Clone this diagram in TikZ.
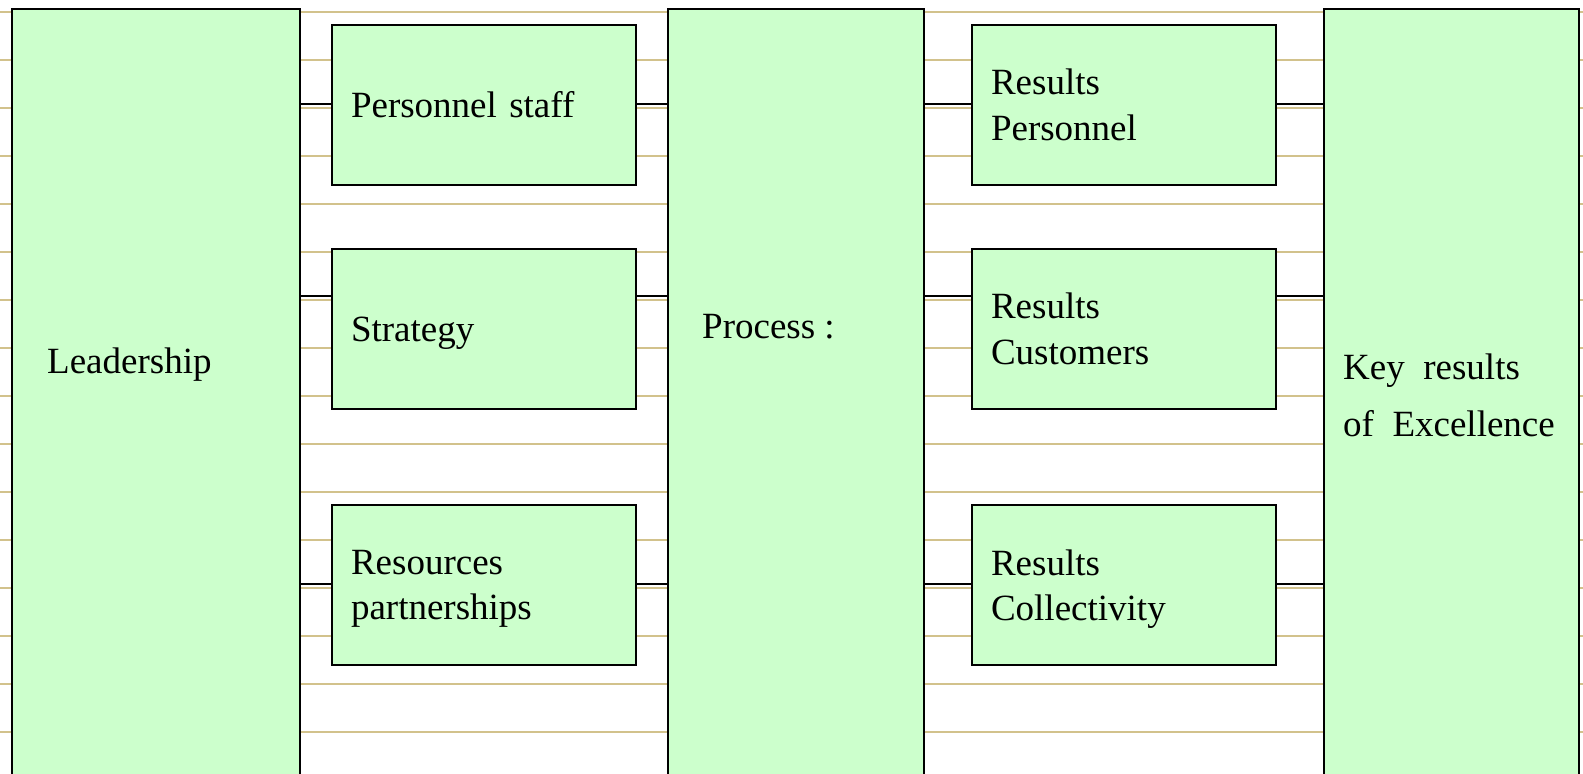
\documentclass[tikz,border=0pt]{standalone}
\usepackage{fontspec}
\setmainfont{Liberation Serif}
\definecolor{boxGreen}{RGB}{204,255,204}
\definecolor{ruleTan}{RGB}{210,194,140}
% keeps the height of a word but drops its descender
\newcommand{\flatText}[1]{\raisebox{0pt}[\height][0pt]{#1}}
\tikzstyle{columnBox}=[shape = rectangle, draw, fill = boxGreen, line width = 2pt, anchor = north west, minimum height = 800pt, inner sep = 0pt]
\tikzstyle{itemBox}=[shape = rectangle, draw, fill = boxGreen, line width = 2pt, anchor = north west, minimum width = 304pt, minimum height = 160pt, inner xsep = 19pt, text width = 266pt, align = left]
\tikzstyle{plainText}=[anchor = base west, inner sep = 0pt, align = left]
\tikzstyle{ruleLine}=[draw = ruleTan, line width = 1.3pt]
\tikzstyle{linkLine}=[draw, line width = 2pt]

\begin{document}
\begin{tikzpicture}[x = 1pt, y = -1pt, font = \fontsize{37}{45.5}\selectfont]
\useasboundingbox (0,0) rectangle (1583,774);
\clip (0,0) rectangle (1583,774);
% ruled background
\foreach \y in {12,60,...,732}
  \draw[ruleLine] (0,\y) -- (1583,\y);
% the three columns
\node[columnBox, minimum width = 288pt] (lead) at (11,8) {};
\node[columnBox, minimum width = 256pt] (proc) at (667,8) {};
\node[columnBox, minimum width = 255pt] (key) at (1323,8) {};
\node[plainText] (leadText) at (47,373) {Leadership};
\node[plainText] (procText) at (702,338) {Process :};
% base sits on the last line here
\node[plainText, font = \fontsize{37}{57}\selectfont] (keyText) at (1343,436) {Key\ \ results\\of\ \ Excellence};
% links between the columns
\coordinate (rowA) at (0,104);
\coordinate (rowB) at (0,296);
\coordinate (rowC) at (0,584);
\foreach \r in {rowA,rowB,rowC} {
  \draw[linkLine] (lead.east |- \r) -- (proc.west |- \r);
  \draw[linkLine] (proc.east |- \r) -- (key.west |- \r);
}
% enablers
\node[itemBox] (staff) at (331,24) {Personnel staff};
\node[itemBox] (strat) at (331,248) {\flatText{Strategy}};
\node[itemBox] (resrc) at (331,504) {Resources\\\flatText{partnerships}};
% results
\node[itemBox] (resPers) at (971,24) {Results\\Personnel};
\node[itemBox] (resCust) at (971,248) {Results\\Customers};
\node[itemBox] (resColl) at (971,504) {Results\\\flatText{Collectivity}};
\end{tikzpicture}
\end{document}
